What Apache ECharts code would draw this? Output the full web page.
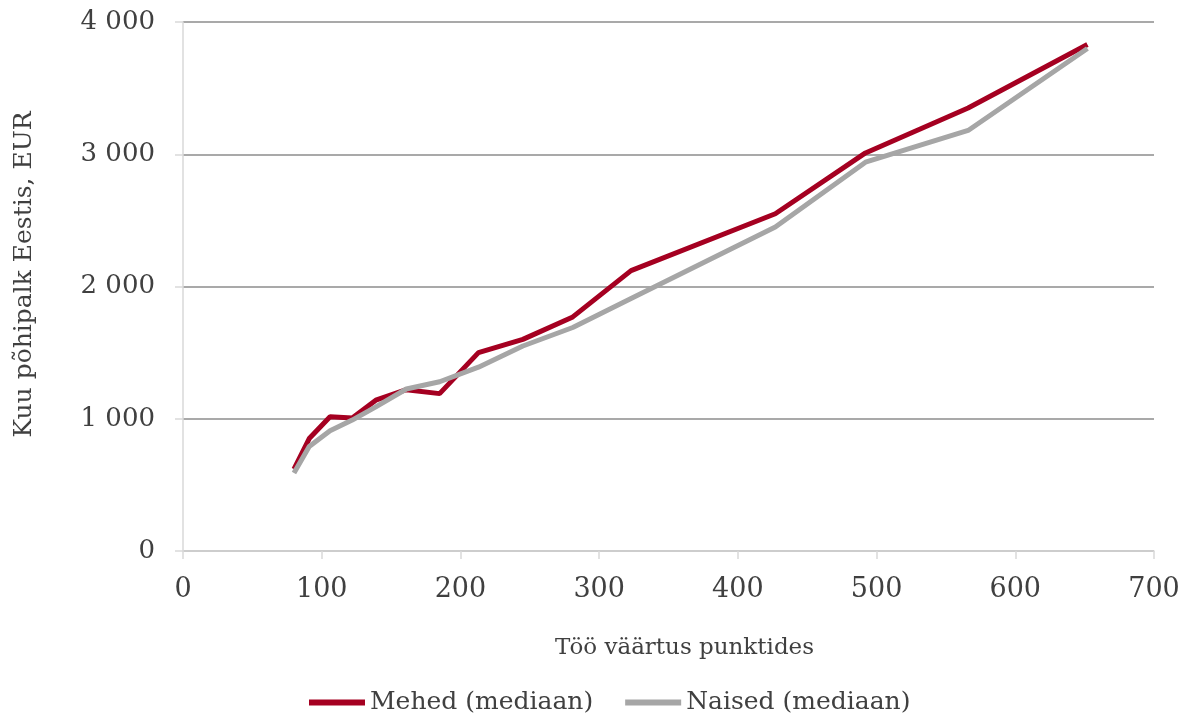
<!DOCTYPE html>
<html>
<head>
<meta charset="utf-8">
<script src="https://cdn.jsdelivr.net/npm/echarts@6/dist/echarts.min.js"></script>
<style>
  html, body { margin: 0; padding: 0; background: #fff; }
  #chart { width: 1184px; height: 715px; }
</style>
</head>
<body>
<div id="chart"></div>
<script>
// töö väärtus punktides
var points = [80, 91, 106, 122, 139, 161, 185, 213, 245, 281, 323, 427, 492, 566, 652]
var mehed = [620, 850, 1015, 1005, 1140, 1220, 1190, 1500, 1600, 1770, 2120, 2550, 3010, 3350, 3830]
var naised = [590, 790, 910, 990, 1090, 1225, 1280, 1390, 1550, 1690, 1910, 2450, 2940, 3180, 3800]

var font = 'DejaVu Serif'

function pairs(xs, ys) {
  return xs.map(function (x, i) { return [x, ys[i]] })
}

var chart = echarts.init(document.getElementById('chart'))

var option = {
  animation: false,
  grid: {
    left: 183,
    right: 30,
    top: 22,
    bottom: 164
  },
  legend: {
    bottom: -5,
    left: 304,
    icon: 'rect',
    itemWidth: 56,
    itemHeight: 6,
    itemGap: 32,
    textStyle: {
      fontFamily: font,
      fontSize: 25,
      color: '#404040'
    },
    data: ['Mehed (mediaan)', 'Naised (mediaan)']
  },
  xAxis: {
    type: 'value',
    min: 0,
    max: 700,
    interval: 100,
    name: 'Töö väärtus punktides',
    nameLocation: 'middle',
    nameGap: 86,
    nameTextStyle: {
      fontFamily: font,
      fontSize: 23,
      color: '#404040',
      padding: [0, 0, 0, 32]
    },
    axisLine: { show: true, lineStyle: { color: '#d9d9d9', width: 1.5 } },
    axisTick: { show: true, length: 8, lineStyle: { color: '#d9d9d9', width: 1.5 } },
    splitLine: { show: false },
    axisLabel: {
      margin: 25,
      fontFamily: font,
      fontSize: 27,
      color: '#404040'
    }
  },
  yAxis: {
    type: 'value',
    min: 0,
    max: 4000,
    interval: 1000,
    name: 'Kuu põhipalk Eestis, EUR',
    nameLocation: 'middle',
    nameGap: 146,
    nameTextStyle: {
      fontFamily: font,
      fontSize: 25,
      color: '#404040',
      padding: [0, 0, 0, 24]
    },
    axisLine: { show: true, lineStyle: { color: '#d9d9d9', width: 1.5 } },
    axisTick: { show: true, length: 8, lineStyle: { color: '#d9d9d9', width: 1.5 } },
    splitLine: { show: true, lineStyle: { color: '#8c8c8c', width: 1.5 } },
    axisLabel: {
      margin: 28,
      fontFamily: font,
      fontSize: 26,
      color: '#404040',
      formatter: function (v) {
        return v >= 1000 ? Math.floor(v / 1000) + ' 000' : String(v)
      }
    }
  },
  series: [
    {
      name: 'Naised (mediaan)',
      type: 'line',
      showSymbol: false,
      symbol: 'none',
      z: 2,
      itemStyle: { color: '#a6a6a6' },
      lineStyle: { color: '#a6a6a6', width: 5 },
      data: pairs(points, naised)
    },
    {
      name: 'Mehed (mediaan)',
      type: 'line',
      showSymbol: false,
      symbol: 'none',
      z: 1,
      itemStyle: { color: '#a50021' },
      lineStyle: { color: '#a50021', width: 5 },
      data: pairs(points, mehed)
    }
  ]
}

chart.setOption(option)
</script>
</body>
</html>
